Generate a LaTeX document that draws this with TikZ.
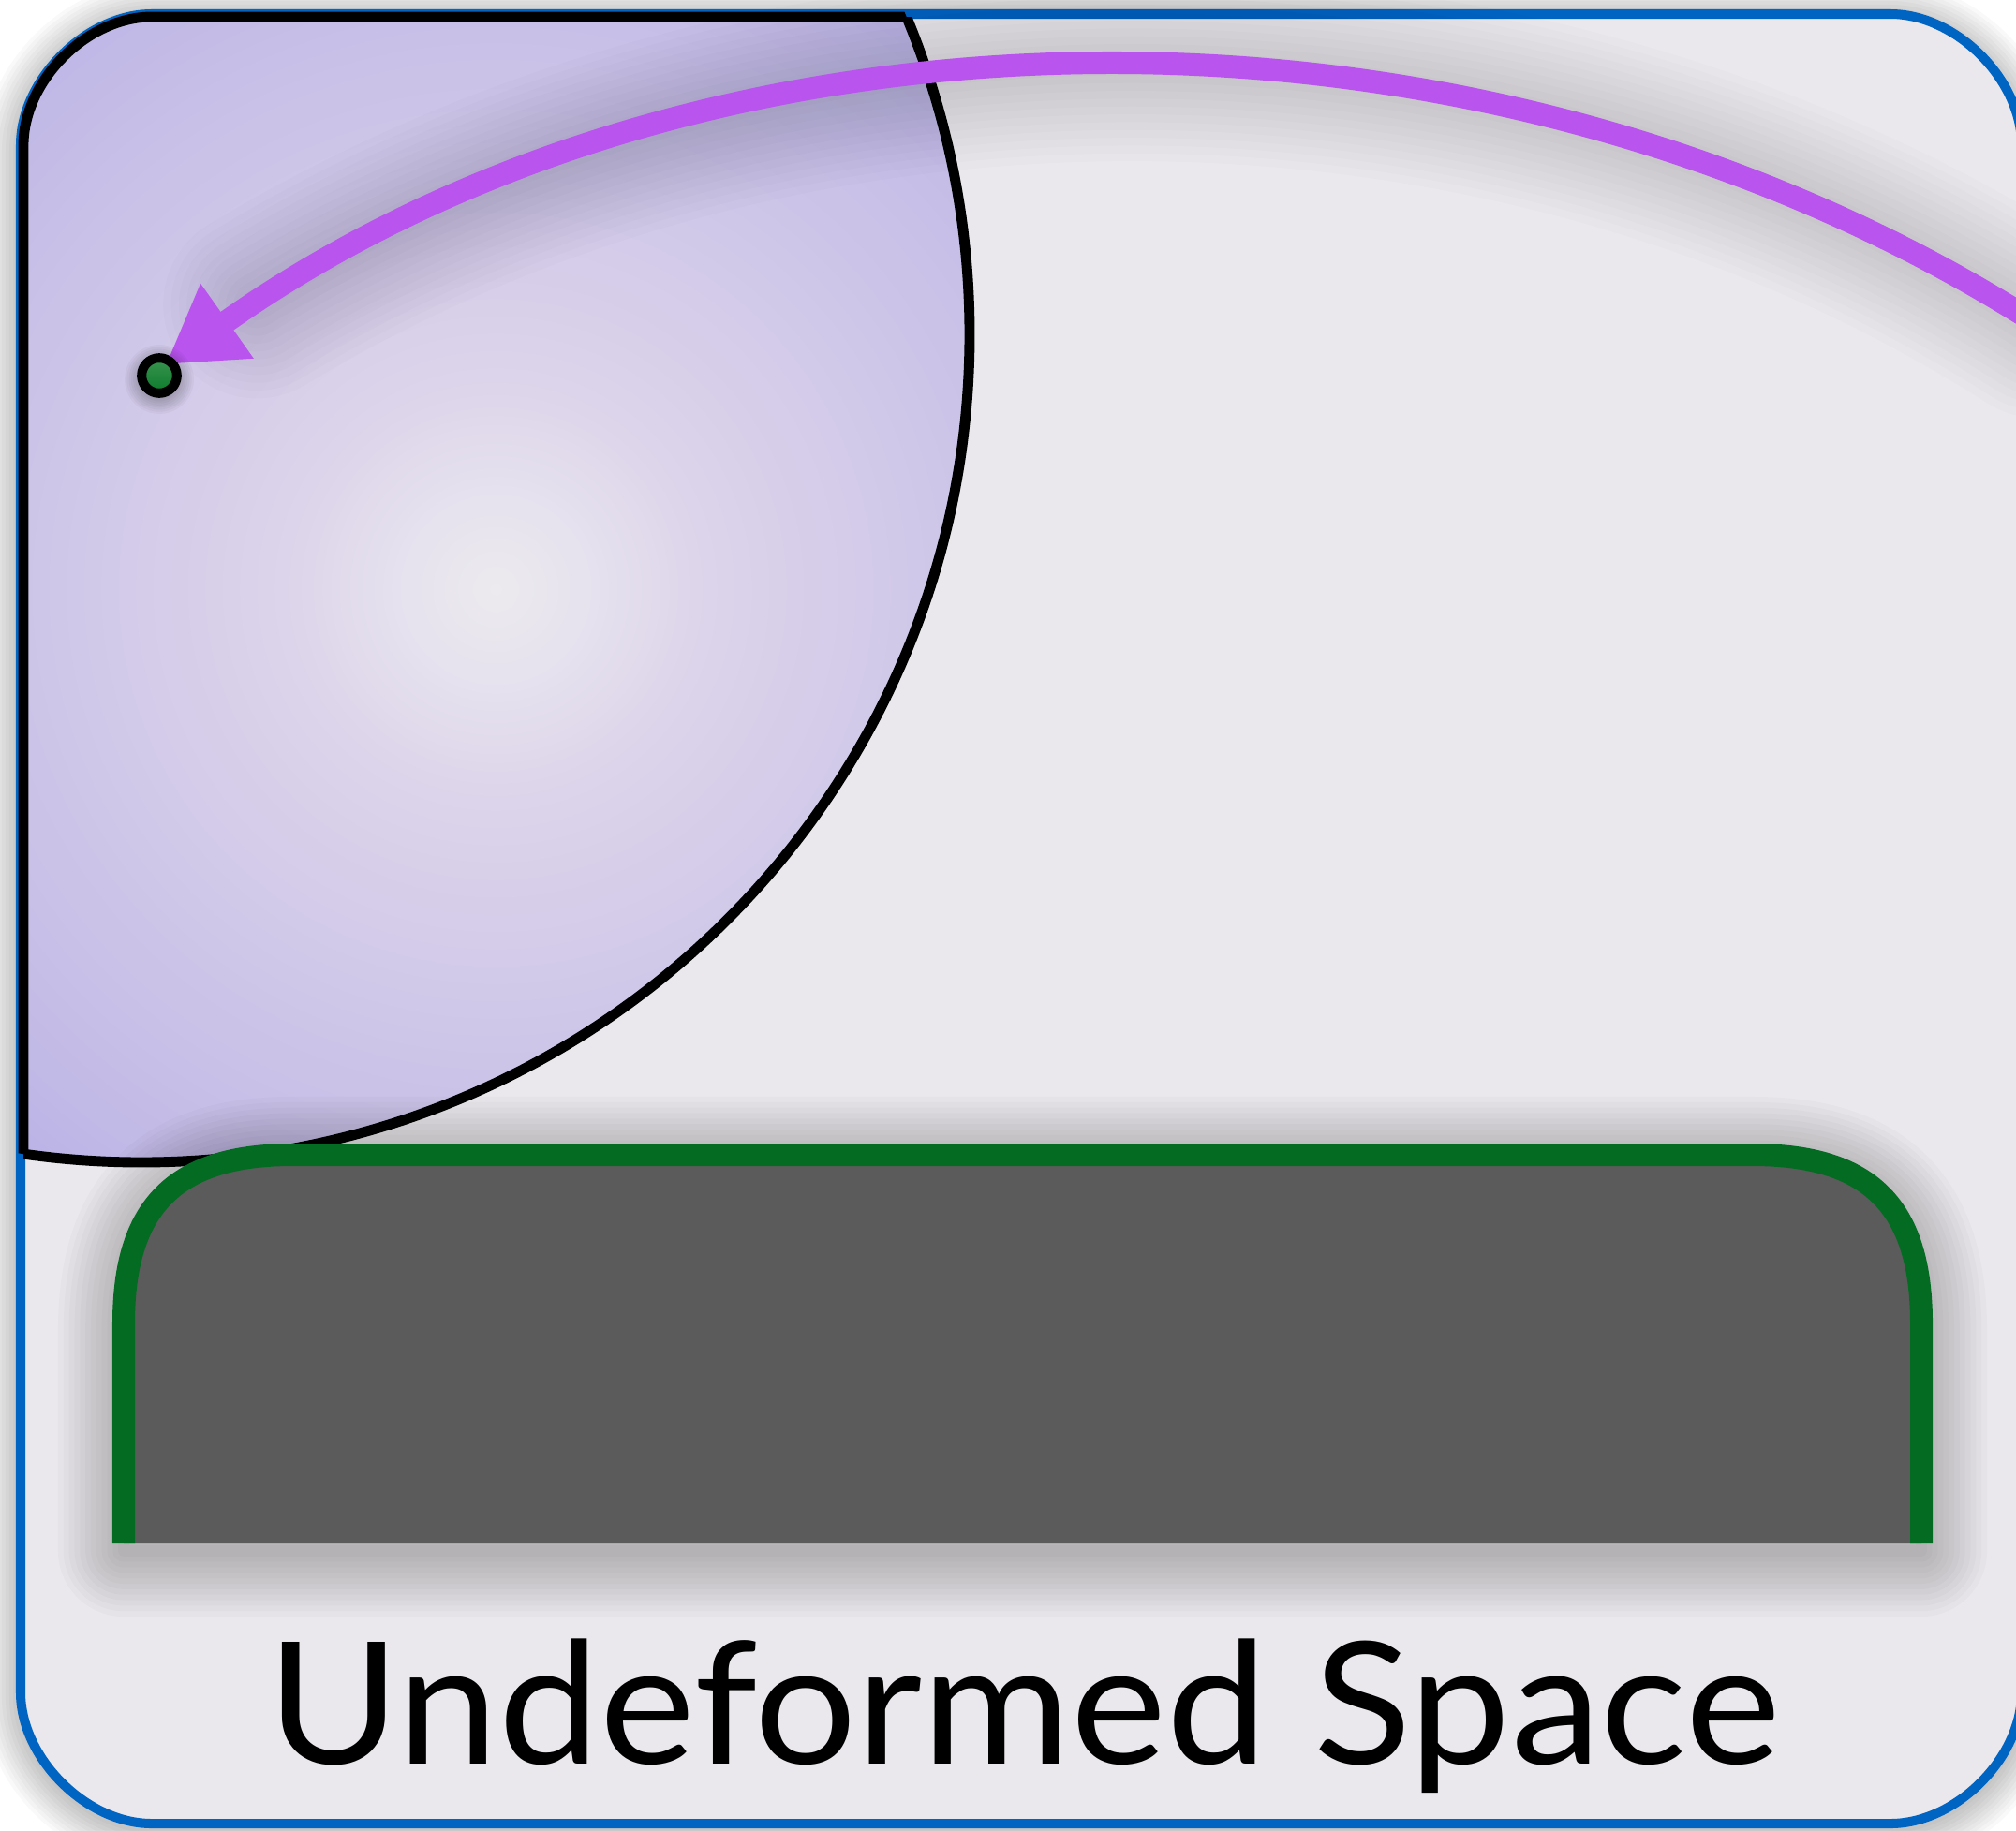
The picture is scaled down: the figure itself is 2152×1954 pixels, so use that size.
\documentclass[tikz,border=0pt]{standalone}
\usepackage{fontspec}
\usepackage{graphicx}
\setmainfont{Lato}
\usetikzlibrary{arrows.meta}
\definecolor{bgfill}{HTML}{EAE8EC}
\definecolor{bluec}{HTML}{0064C3}
\definecolor{arrowc}{HTML}{B954EF}
\definecolor{greenc}{HTML}{046B23}
\definecolor{grayc}{HTML}{5B5B5B}
\definecolor{pcA}{HTML}{ECEAEE}
\definecolor{pcB}{HTML}{E6E2EE}
\definecolor{pcC}{HTML}{DCD4EA}
\definecolor{pcD}{HTML}{CEC6E8}
\definecolor{pcE}{HTML}{C3BBE6}
\definecolor{pcF}{HTML}{B9B1E6}
\definecolor{dotg}{HTML}{0B7A2A}
\definecolor{dotl}{HTML}{3A9550}
\pgfdeclareradialshading{purpshade}{\pgfpoint{0bp}{0bp}}{color(0bp)=(pcA); color(3bp)=(pcB); color(7bp)=(pcC); color(15bp)=(pcD); color(21bp)=(pcE); color(25bp)=(pcF); color(50bp)=(pcF)}
% rounded rectangle with smooth corners: left, top, right, bottom, L, k
\newcommand\rrpath[6]{({#1},{#2+#5}) .. controls ({#1},{#2+#6}) and ({#1+#6},{#2}) .. ({#1+#5},{#2}) -- ({#3-#5},{#2}) .. controls ({#3-#6},{#2}) and ({#3},{#2+#6}) .. ({#3},{#2+#5}) -- ({#3},{#4-#5}) .. controls ({#3},{#4-#6}) and ({#3-#6},{#4}) .. ({#3-#5},{#4}) -- ({#1+#5},{#4}) .. controls ({#1+#6},{#4}) and ({#1},{#4-#6}) .. ({#1},{#4-#5}) -- cycle}
% soft shadow: path, max width (px), opacity, steps
\newcommand\halo[4]{\foreach \hi in {1,...,#4}{\pgfmathsetmacro\lw{#2*\hi/#4*0.28453}\draw[line width=\lw pt, black, opacity=#3, line join=round, line cap=round] #1;}}
\tikzset{
  blueframe/.style={draw=bluec, line width=2.85pt},
  blackedge/.style={draw=black, line width=3.1pt},
  greenedge/.style={draw=greenc, line width=6.83pt},
  purplearrow/.style={draw=arrowc, line width=6.83pt, -{Triangle[length=22.8pt,width=26.2pt]}},
  dotnode/.style={circle, draw=black, line width=2.85pt, minimum size=10.7pt, inner sep=0pt, top color=dotl, bottom color=dotg},
  labeltext/.style={anchor=base, font=\fontsize{51.6pt}{60pt}\selectfont, text=black, inner sep=0pt}
}
\begin{document}
\begin{tikzpicture}[x=0.01cm, y=-0.01cm]
\useasboundingbox (0,0) rectangle (2152,1954);
\clip (0,0) rectangle (2152,1954);
\fill[white] (0,0) rectangle (2152,1954);
% outer frame shadow and fill
\begin{scope}[yshift=-0.06cm]
\halo{\rrpath{22}{15}{2158}{1947}{140}{70}}{80}{0.022}{10}
\end{scope}
\fill[bgfill] \rrpath{22}{15}{2158}{1947}{140}{70};
% purple region
\begin{scope}
\clip \rrpath{25}{18}{2155}{1944}{137}{68};
\clip (151,357) circle[radius=884];
\fill[pcF] (0,0) rectangle (1100,1300);
\shade[shading=purpshade] (529,629) circle[radius=810];
\end{scope}
\draw[blueframe] \rrpath{22}{15}{2158}{1947}{140}{70};
\begin{scope}
\clip (151,357) circle[radius=884];
\draw[blackedge] \rrpath{25}{18}{2155}{1944}{137}{68};
\end{scope}
\begin{scope}
\clip \rrpath{25}{18}{2155}{1944}{137}{68};
\draw[blackedge] (151,357) circle[radius=884];
\end{scope}
% gray box
\def\boxclosed{(132,1648) -- (132,1413) .. controls (132,1288) and (187,1233) .. (312,1233) -- (1871,1233) .. controls (1996,1233) and (2051,1288) .. (2051,1413) -- (2051,1648) -- cycle}
\begin{scope}[yshift=-0.08cm]
\halo{\boxclosed}{140}{0.018}{12}
\end{scope}
\fill[grayc] \boxclosed;
\draw[greenedge] (132,1648) -- (132,1413) .. controls (132,1288) and (187,1233) .. (312,1233) -- (1871,1233) .. controls (1996,1233) and (2051,1288) .. (2051,1413) -- (2051,1648);
% arrow
\coordinate (arcstart) at (2175,346);
\begin{scope}[yshift=-0.06cm]
\halo{(arcstart) arc[start angle=-53.03, end angle=-125.5, x radius=1608, y radius=1363]}{200}{0.013}{12}
\end{scope}
\draw[purplearrow] (arcstart) arc[start angle=-53.03, end angle=-129.88, x radius=1608, y radius=1363];
\begin{scope}[yshift=-0.04cm]
\halo{(170,401) circle[radius=19]}{36}{0.03}{8}
\end{scope}
\node[dotnode] (dot) at (170,401) {};
% label
\node[labeltext] (label) at (1093,1883) {\scalebox{1.062}[1]{Undeformed Space}};
\end{tikzpicture}
\end{document}
